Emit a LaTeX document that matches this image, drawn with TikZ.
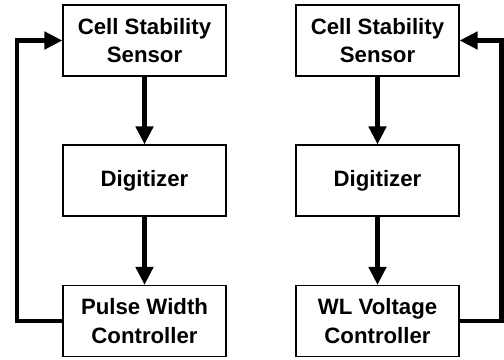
\documentclass[tikz,border=0pt]{standalone}
\usepackage{fontspec}
\setmainfont{Liberation Sans}
\usepackage{tikz}
\usetikzlibrary{arrows.meta}

\begin{document}
\begin{tikzpicture}[x=1bp,y=-1bp,
    blockbox/.style={draw,line width=1.1bp,minimum width=163bp,minimum height=71bp,
        align=center,inner sep=0pt,font=\fontsize{22.3}{28.5}\selectfont\bfseries},
    flow/.style={line width=4.5bp,-{Triangle[width=17bp,length=18bp]}}]
        \useasboundingbox (0,0) rectangle (504,359);
        % left loop
        \node[blockbox] (cssL) at (144.5,40.5) {Cell Stability\\Sensor};
        \node[blockbox] (digL) at (144.5,180.5) {Digitizer};
        \node[blockbox] (pwc) at (144.5,321) {Pulse Width\\Controller};
        \coordinate (fbL) at (17,180);
        \draw[flow] (cssL) -- (digL);
        \draw[flow] (digL) -- (pwc);
        \draw[flow] (pwc.west) -| (fbL) |- (cssL.west);
        % right loop
        \node[blockbox] (cssR) at (377.5,40.5) {Cell Stability\\Sensor};
        \node[blockbox] (digR) at (377.5,180.5) {Digitizer};
        \node[blockbox] (wlc) at (377.5,321) {WL Voltage\\Controller};
        \coordinate (fbR) at (501.5,180);
        \draw[flow] (cssR) -- (digR);
        \draw[flow] (digR) -- (wlc);
        \draw[flow] (wlc.east) -| (fbR) |- (cssR.east);
\end{tikzpicture}
\end{document}
